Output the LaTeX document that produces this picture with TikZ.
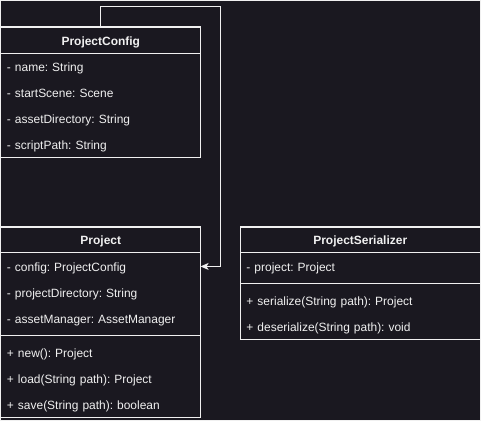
\documentclass[tikz,border=0pt]{standalone}
\usepackage{fontspec}
\setmainfont{Liberation Sans}
\usepackage{xcolor}
\usetikzlibrary{positioning,arrows.meta}
\definecolor{DarkBg}{HTML}{1A1820}
\definecolor{LineWhite}{HTML}{F0F0F0}
\frenchspacing

\begin{document}
\begin{tikzpicture}[x=1pt,y=1pt,>={Stealth[length=8pt,width=7pt,inset=2pt]},
                    every node/.style={text=LineWhite, font=\fontsize{12}{14}\selectfont},
                    every path/.style={draw=LineWhite, line width=1pt},
                    head/.style={draw, minimum width=200pt, minimum height=26pt, inner sep=0pt, align=center,
                                 font=\fontsize{12}{14}\selectfont\bfseries, text height=11pt, text depth=1pt},
                    row/.style={text width=188pt, inner xsep=6pt, inner ysep=0pt, minimum height=26pt,
                                align=left, text height=11pt, text depth=1pt, outer sep=0pt},
                    wide/.style={minimum width=240pt, text width=228pt}]
\fill[DarkBg, draw=none] (0,0) rectangle (481,-421);
\useasboundingbox (0,0) rectangle (481,-421);

% ProjectConfig
\node[head] (cfg) at (100.5,-40) {ProjectConfig};
\node[row, below=0pt of cfg] (cfgA) {- name: String};
\node[row, below=0pt of cfgA] (cfgB) {- startScene: Scene};
\node[row, below=0pt of cfgB] (cfgC) {- assetDirectory: String};
\node[row, below=0pt of cfgC] (cfgD) {- scriptPath: String};
\draw (cfg.north west) rectangle (cfgD.south east);

% Project
\node[head] (prj) at (100.5,-240) {Project};
\node[row, below=0pt of prj] (prjA) {- config: ProjectConfig};
\node[row, below=0pt of prjA] (prjB) {- projectDirectory: String};
\node[row, below=0pt of prjB] (prjC) {- assetManager: AssetManager};
\node[row, below=8pt of prjC] (prjD) {+ new(): Project};
\node[row, below=0pt of prjD] (prjE) {+ load(String path): Project};
\node[row, below=0pt of prjE] (prjF) {+ save(String path): boolean};
\draw (prj.north west) rectangle (prjF.south east);
\draw ([yshift=-4pt]prjC.south west) -- ([yshift=-4pt]prjC.south east);

% ProjectSerializer
\node[head, wide] (ser) at (360.5,-240) {ProjectSerializer};
\node[row, wide, below=0pt of ser] (serA) {- project: Project};
\node[row, wide, below=8pt of serA] (serB) {+ serialize(String path): Project};
\node[row, wide, below=0pt of serB] (serC) {+ deserialize(String path): void};
\draw (ser.north west) rectangle (serC.south east);
\draw ([yshift=-4pt]serA.south west) -- ([yshift=-4pt]serA.south east);

\draw[->] (cfg.north) -- ++(0,20) -| ([xshift=19.5pt]prjA.east) -- (prjA.east);
\end{tikzpicture}
\end{document}
